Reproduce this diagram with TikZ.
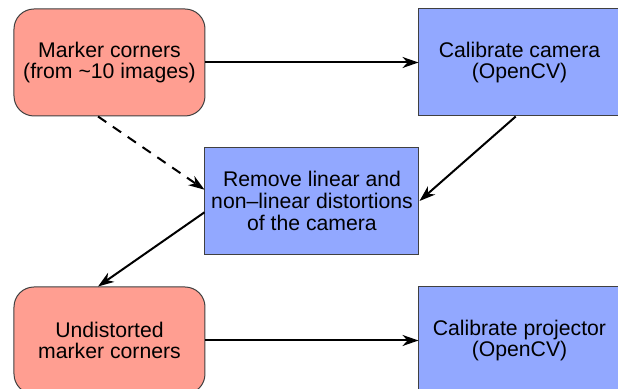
\documentclass[tikz,border=0pt]{standalone}
\usepackage{fontspec}
\setmainfont{Liberation Sans}
\usetikzlibrary{arrows.meta}

\definecolor{salmon}{RGB}{255,158,145}
\definecolor{skyblue}{RGB}{146,168,255}

\begin{document}
\begin{tikzpicture}[x=0.5pt,y=-0.5pt,
  font=\fontsize{10.6}{10.8}\selectfont,
  data/.style={draw=black!75,line width=0.5pt,fill=salmon,rounded corners=10pt,
    align=center,minimum width=95.5pt,minimum height=53.5pt,inner sep=0pt},
  proc/.style={draw=black!75,line width=0.5pt,fill=skyblue,
    align=center,minimum height=53.5pt,inner sep=0pt},
  flow/.style={line width=1pt,-{Stealth[length=8pt,width=5.5pt,inset=2.5pt]}}]
\useasboundingbox (0,0) rectangle (618,389);

% input and output data
\node[data] (mark) at (109.5,62.5){Marker corners\\(from \textasciitilde10 images)};
\node[data] (undist) at (109.5,340.5){Undistorted\\marker corners};

% processing steps
\node[proc,minimum width=100.5pt] (calcam) at (519.5,62.5){Calibrate camera\\(OpenCV)};
\node[proc,minimum width=107pt] (remove) at (312,201){Remove linear and\\non\textendash linear distortions\\of the camera};
\node[proc,minimum width=100.5pt] (calproj) at (519.5,340.5){Calibrate projector\\(OpenCV)};

\draw[flow] (mark) -- (calcam);
\draw[flow] (calcam.266) -- (remove.east);
\draw[flow,dashed,dash pattern=on 5pt off 4pt] (mark.258) -- (remove.174);
\draw[flow] (remove.186) -- (undist.102);
\draw[flow] (undist) -- (calproj);
\end{tikzpicture}
\end{document}
